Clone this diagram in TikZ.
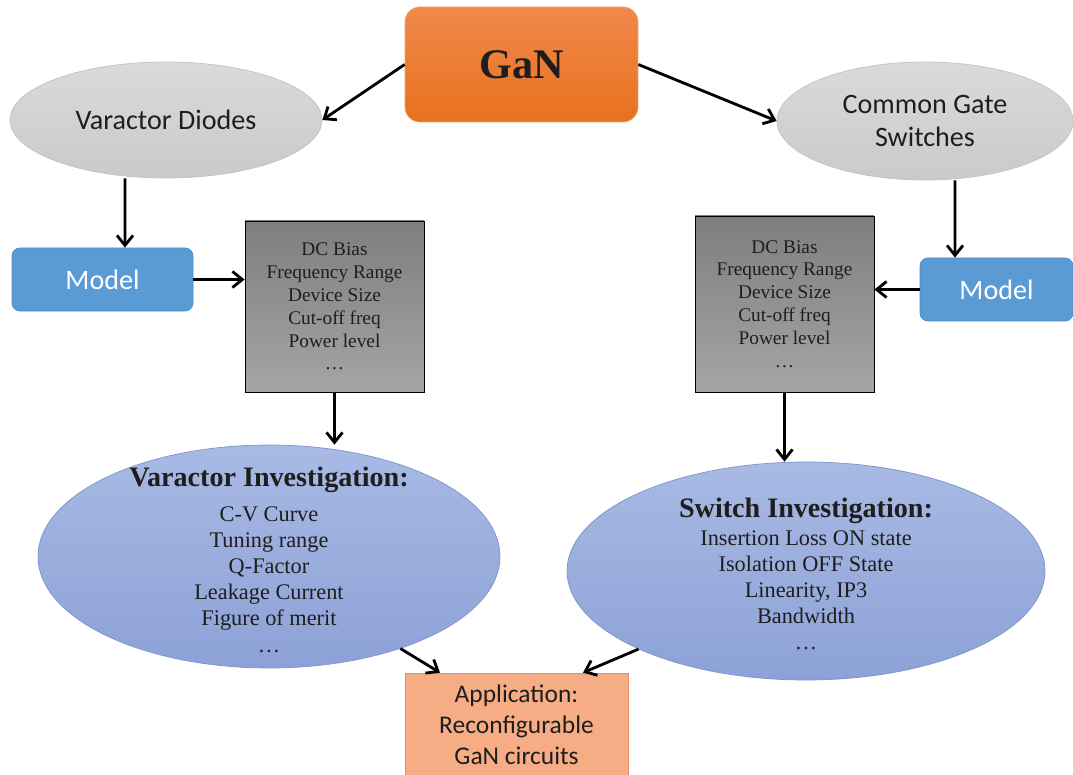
\documentclass[tikz,border=0pt]{standalone}
\usepackage{fontspec}
\setmainfont{Liberation Serif}
\newfontfamily\carlito{Carlito}
\usepackage{tikz}
\usetikzlibrary{shapes,arrows.meta}
\definecolor{gantop}{HTML}{F0894A}
\definecolor{ganbot}{HTML}{E8711F}
\definecolor{ganline}{HTML}{F2A06C}
\definecolor{devtop}{HTML}{DADADA}
\definecolor{devbot}{HTML}{CACACA}
\definecolor{devline}{HTML}{C2C2C2}
\definecolor{modelblue}{HTML}{5B9BD5}
\definecolor{modelline}{HTML}{4E8AC4}
\definecolor{paramtop}{HTML}{7E7E7E}
\definecolor{parambot}{HTML}{A5A5A5}
\definecolor{studytop}{HTML}{A8BAE4}
\definecolor{studybot}{HTML}{8CA1D7}
\definecolor{studyline}{HTML}{7E93CA}
\definecolor{appfill}{HTML}{F6AD86}
\definecolor{appline}{HTML}{E98B59}
\definecolor{txt}{HTML}{1E1E1E}

\begin{document}
\begin{tikzpicture}
                [
                main/.style={rectangle,rounded corners=0.3cm,minimum width=4.66cm,minimum height=2.3cm,top color=gantop,bottom color=ganbot,draw=ganline,font=\bfseries\fontsize{24}{28}\selectfont,text=txt},
                device/.style={ellipse,inner sep=0pt,top color=devtop,bottom color=devbot,draw=devline,align=center,text=txt,font=\carlito\fontsize{16}{19.3}\selectfont},
                model/.style={rectangle,rounded corners=0.16cm,fill=modelblue,draw=modelline,minimum height=1.26cm,text=white,font=\carlito\fontsize{16}{19}\selectfont},
                param/.style={rectangle,draw=black,top color=paramtop,bottom color=parambot,minimum width=3.58cm,align=center,text=txt,font=\fontsize{11}{13}\selectfont},
                study/.style={ellipse,inner sep=0pt,top color=studytop,bottom color=studybot,draw=studyline},
                studytext/.style={align=center,text=txt,font=\fontsize{12.7}{14.9}\selectfont},
                app/.style={rectangle,fill=appfill,draw=appline,minimum width=4.46cm,minimum height=2.06cm,align=center,text=txt,font=\carlito\fontsize{14.5}{17.6}\selectfont},
                edge/.style={-{Straight Barb[length=2mm,width=3.2mm]},line width=1.6pt}
                ]
            \useasboundingbox (0,0) rectangle (21.46,-15.48);
            \node[main] (1) at (10.43,-1.29) {GaN};
            \node[device,minimum width=6.24cm,minimum height=2.32cm] (2) at (3.32,-2.40) {Varactor Diodes};
            \node[device,minimum width=5.92cm,minimum height=2.36cm] (3) at (18.50,-2.42) {Common Gate\\Switches};
            \node[model,minimum width=3.62cm] (4) at (2.05,-5.59) {Model};
            \node[model,minimum width=3.06cm] (5) at (19.93,-5.79) {Model};
            \node[param,minimum height=3.42cm] (6) at (6.69,-6.13) {DC Bias\\Frequency Range\\Device Size\\Cut-off freq\\Power level\\…};
            \node[param,minimum height=3.52cm] (7) at (15.69,-6.08) {DC Bias\\Frequency Range\\Device Size\\Cut-off freq\\Power level\\…};
            \node[study,minimum width=9.24cm,minimum height=4.46cm] (8) at (5.38,-11.13) {};
            \node[studytext] (8t) at (5.38,-11.19) {{\fontsize{16}{18}\selectfont\bfseries Varactor Investigation:}\\[5pt]C-V Curve\\Tuning range\\Q-Factor\\Leakage Current\\Figure of merit\\…};
            \node[study,minimum width=9.56cm,minimum height=4.36cm] (9) at (16.12,-11.42) {};
            \node[studytext] (9t) at (16.12,-11.48) {{\fontsize{16}{18}\selectfont\bfseries Switch Investigation:}\\[1pt]Insertion Loss ON state\\Isolation OFF State\\Linearity, IP3\\Bandwidth\\…};
            \node[app] (10) at (10.33,-14.49) {Application:\\Reconfigurable\\GaN circuits};
            \draw[edge] (1.west) -- (2.east);
            \draw[edge] (1.east) -- (3.west);
            \draw[edge] ([xshift=-0.82cm]2.south) -- ([xshift=0.45cm]4.north);
            \draw[edge] ([xshift=0.6cm]3.south) -- ([xshift=-0.83cm]5.north);
            \draw[edge] (4.east) -- (4.east -| 6.west);
            \draw[edge] (5.west) -- (5.west -| 7.east);
            \draw[edge] (6.south) -- (6.south |- 8.north);
            \draw[edge] (7.south) -- (7.south |- 9.north);
            \draw[edge] (8.325) -- ([xshift=-1.53cm]10.north);
            \draw[edge] (9.205) -- ([xshift=1.33cm]10.north);
            \end{tikzpicture}
\end{document}
